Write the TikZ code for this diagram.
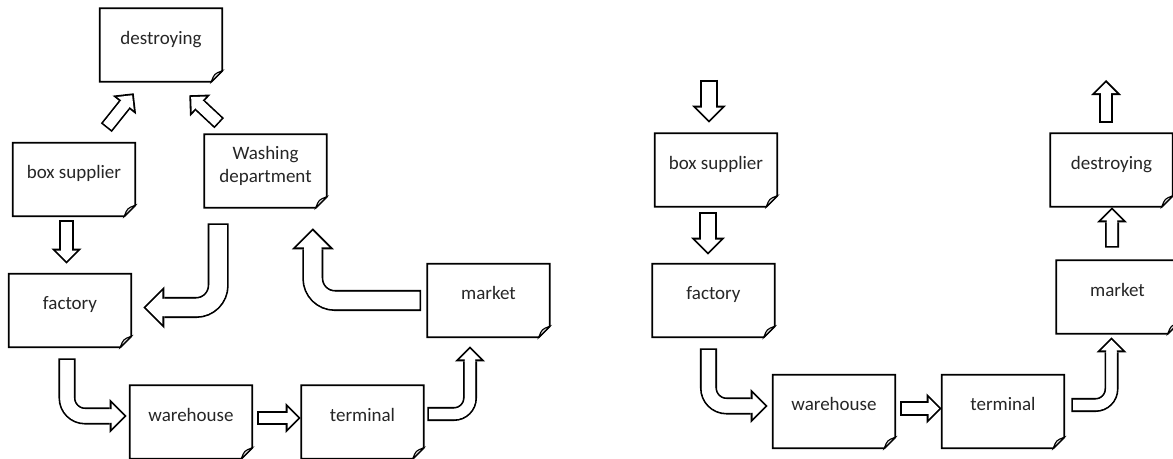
\documentclass[tikz,border=0pt]{standalone}
\usepackage{fontspec}
\setmainfont{Carlito}
\usetikzlibrary{arrows.meta,calc}

\tikzset{
  note/.style={minimum width=3.05cm, minimum height=1.825cm, inner sep=0pt,
    text height=10pt, text depth=11pt, text=black!85,
    font=\fontsize{13.5}{16.4}\selectfont},
  outline/.style={draw=black, line width=1.3pt, line join=miter},
  fold/.style={draw=black, line width=0.8pt, fill=gray!25},
  % block arrows: black body underneath, white body on top
  slim/.style={draw=white, line width=7.36pt, rounded corners=0.4cm,
    shorten <=1.3pt, shorten >=1.84pt,
    -{Triangle[length=7.53pt, width=15.06pt, line width=0pt]},
    preaction={draw=black, line width=9.96pt, shorten <=0pt, shorten >=0pt,
      -{Triangle[length=10.67pt, width=21.34pt, line width=0pt]}},
    postaction={draw=white, line width=7.36pt, arrows=-,
      shorten <=1.3pt, shorten >=7.87pt}},
  mid/.style={draw=white, line width=9.5pt, rounded corners=0.45cm,
    shorten <=1.3pt, shorten >=1.84pt,
    -{Triangle[length=8.95pt, width=17.9pt, line width=0pt]},
    preaction={draw=black, line width=12.1pt, shorten <=0pt, shorten >=0pt,
      -{Triangle[length=12.09pt, width=24.18pt, line width=0pt]}},
    postaction={draw=white, line width=9.5pt, arrows=-,
      shorten <=1.3pt, shorten >=9.29pt}},
  wide/.style={draw=white, line width=12.34pt, rounded corners=0.55cm,
    shorten <=1.3pt, shorten >=1.84pt,
    -{Triangle[length=11.8pt, width=23.6pt, line width=0pt]},
    preaction={draw=black, line width=14.94pt, shorten <=0pt, shorten >=0pt,
      -{Triangle[length=14.94pt, width=29.88pt, line width=0pt]}},
    postaction={draw=white, line width=12.34pt, arrows=-,
      shorten <=1.3pt, shorten >=12.14pt}}
}

\begin{document}
\begin{tikzpicture}[x=0.025cm, y=-0.025cm]
  \path[fill=white, use as bounding box] (0,0) rectangle (1173,459);

  % left cycle
  \node[note] (ldes)  at (161,45)      {destroying};
  \node[note] (lbox)  at (74,179.5)    {box supplier};
  \node[note, text depth=26.5pt] (lwash) at (265.5,171)
    {\begin{tabular}[t]{@{}c@{}}Washing\\department\end{tabular}};
  \node[note] (lfac)  at (70,310.5)    {factory};
  \node[note] (lware) at (191,422)     {warehouse};
  \node[note] (lterm) at (362.5,422)   {terminal};
  \node[note] (lmark) at (488.5,300.5) {market};

  % right line
  \node[note] (rbox)  at (716,170)      {box supplier};
  \node[note] (rfac)  at (713.5,300.5)  {factory};
  \node[note] (rware) at (834,411.5)    {warehouse};
  \node[note] (rterm) at (1003,411.5)   {terminal};
  \node[note] (rmark) at (1117.5,297)   {market};
  \node[note] (rdes)  at (1111.5,170)   {destroying};

  % sheets with folded corner
  \foreach \n in {ldes,lbox,lwash,lfac,lware,lterm,lmark,rbox,rfac,rware,rterm,rmark,rdes}{
    \draw[outline] (\n.north west) -- (\n.north east) -- ($(\n.south east)+(0,-11)$)
      -- ($(\n.south east)+(-11,0)$) -- (\n.south west) -- cycle;
    \draw[fold] ($(\n.south east)+(0,-11)$) .. controls ($(\n.south east)+(-8,-8)$)
      .. ($(\n.south east)+(-11,0)$) -- cycle;
  }

  % left arrows
  \draw[slim] ($(lbox.south)+(-7.5,4)$) -- ($(lfac.north)+(-3.5,-10)$);
  \draw[slim] ($(lbox.north east)+(-29,-15)$) -- ($(ldes.south west)+(34,11.5)$);
  \draw[slim] ($(lwash.north west)+(15,-11)$) -- ($(ldes.south east)+(-33,13.5)$);
  \draw[wide] ($(lwash.south west)+(14,15.5)$) |- ($(lfac.east)+(12,-3)$);
  \draw[wide] ($(lmark.west)+(-6,0)$) -| ($(lwash.south east)+(-14,20.5)$);
  \draw[mid] ($(lfac.south)+(-3,11)$) |- ($(lware.west)+(-3,-6)$);
  \draw[slim] ($(lware.east)+(5,-4)$) -- ($(lterm.west)+(-0.5,-4)$);
  \draw[slim] ($(lterm.east)+(3.5,-8)$) -| ($(lmark.south)+(-18.5,9)$);

  % right arrows
  \coordinate (rin)  at (709,80);
  \coordinate (rout) at (1106,80);
  \draw[mid] (rin) -- ($(rbox.north)+(-7,-10.5)$);
  \draw[mid] ($(rbox.south)+(-8,5.5)$) -- ($(rfac.north)+(-5.5,-9)$);
  \draw[mid] ($(rfac.south)+(-5,11)$) |- ($(rware.west)+(-5,-5.5)$);
  \draw[slim] ($(rware.east)+(5,-3)$) -- ($(rterm.west)+(0,-3)$);
  \draw[slim] ($(rterm.east)+(7,-6.5)$) -| ($(rmark.south)+(-6,3.5)$);
  \draw[slim] ($(rmark.north)+(-5.5,-12.5)$) -- ($(rdes.south)+(0.5,0.5)$);
  \draw[slim] ($(rdes.north)+(-5.5,-10.5)$) -- (rout);
\end{tikzpicture}
\end{document}
